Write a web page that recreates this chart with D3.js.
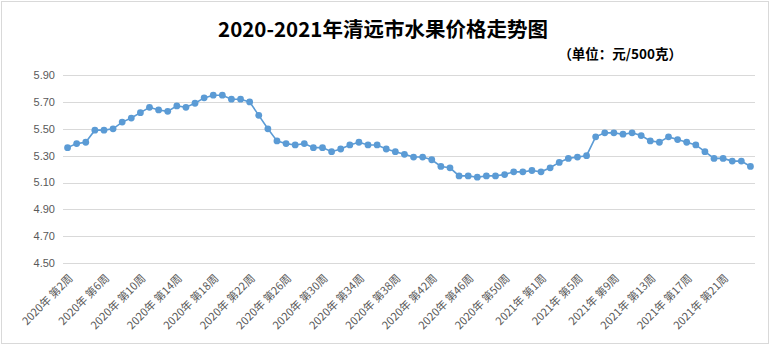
<!DOCTYPE html>
<html><head><meta charset="utf-8">
<script src="https://cdn.jsdelivr.net/npm/d3@7"></script>
<style>
html,body{margin:0;padding:0;background:#fff;}
svg{display:block;}
</style></head>
<body>
<script>
const title = "2020-2021年清远市水果价格走势图";
const unitLabel = "（单位：元/500克）";
const weeks2020 = d3.range(2, 54);
const weeks2021 = d3.range(1, 25);
const categories = weeks2020.map(w => `2020年 第${w}周`).concat(weeks2021.map(w => `2021年 第${w}周`));
const prices = [
  5.36,5.39,5.40,5.49,5.49,5.50,5.55,5.58,5.62,5.66,
  5.64,5.63,5.67,5.66,5.69,5.73,5.75,5.75,5.72,5.72,
  5.70,5.60,5.50,5.41,5.39,5.38,5.39,5.36,5.36,5.33,
  5.35,5.38,5.40,5.38,5.38,5.35,5.33,5.31,5.29,5.29,
  5.27,5.22,5.21,5.15,5.15,5.14,5.15,5.15,5.16,5.18,
  5.18,5.19,5.18,5.21,5.25,5.28,5.29,5.30,5.44,5.47,
  5.47,5.46,5.47,5.45,5.41,5.40,5.44,5.42,5.40,5.38,
  5.33,5.28,5.28,5.26,5.26,5.22
];
const yTicks = [4.50,4.70,4.90,5.10,5.30,5.50,5.70,5.90];

const W = 771, H = 346;
const svg = d3.select("body").append("svg").attr("width", W).attr("height", H);

// chart border
svg.append("rect").attr("x",1.5).attr("y",1.5).attr("width",767).attr("height",342)
  .attr("fill","#fff").attr("stroke","#d9d9d9").attr("stroke-width",1);

const x = d3.scalePoint().domain(categories).range([63, 755]).padding(0.5);
const y = d3.scaleLinear().domain([4.5, 5.9]).range([263.3, 75]);

// gridlines
svg.append("g").selectAll("line").data(yTicks).join("line")
  .attr("x1",63).attr("x2",755)
  .attr("y1",d=>Math.round(y(d))+0.5).attr("y2",d=>Math.round(y(d))+0.5)
  .attr("stroke","#d9d9d9").attr("stroke-width",1);

// y labels
svg.append("g").selectAll("text").data(yTicks).join("text")
  .attr("x",55).attr("y",d=>y(d)).attr("dy","0.35em")
  .attr("text-anchor","end")
  .attr("font-family","Liberation Sans, Arial, sans-serif").attr("font-size",11)
  .attr("fill","#595959").text(d=>d3.format(".2f")(d));

// x labels
const shown = categories.filter((c,i)=>i%4===0);
svg.append("g").selectAll("text").data(shown).join("text")
  .attr("transform",d=>`translate(${x(d)+6},${279}) rotate(-45)`)
  .attr("text-anchor","end")
  .attr("font-family","'Noto Sans CJK SC', sans-serif").attr("font-size",11)
  .attr("fill","#595959").text(d=>d);

// line
const line = d3.line().x((d,i)=>x(categories[i])).y(d=>y(d));
svg.append("path").datum(prices).attr("d",line)
  .attr("fill","none").attr("stroke","#5b9bd5").attr("stroke-width",1.6);
svg.append("g").selectAll("circle").data(prices).join("circle")
  .attr("cx",(d,i)=>x(categories[i])).attr("cy",d=>y(d)).attr("r",3.4)
  .attr("fill","#5b9bd5");

// title
svg.append("text").attr("x",383).attr("y",37).attr("text-anchor","middle")
  .attr("font-family","'Noto Sans CJK SC', sans-serif").attr("font-weight","bold")
  .attr("font-size",20.5).attr("fill","#000").text(title);
svg.append("text").attr("x",682).attr("y",59).attr("text-anchor","end")
  .attr("font-family","'Noto Sans CJK SC', sans-serif").attr("font-weight","bold")
  .attr("font-size",13.5).attr("fill","#000").text(unitLabel);
</script>
</body></html>
